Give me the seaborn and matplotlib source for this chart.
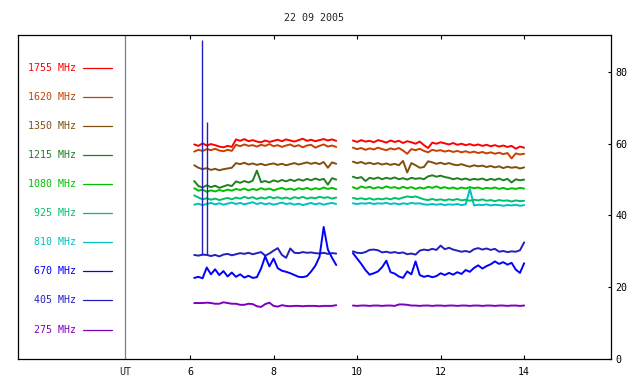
import numpy as np
import pandas as pd
import matplotlib
matplotlib.use("Agg")
import matplotlib.pyplot as plt
import seaborn as sns

# time grids (UT hours) for the two recording blocks
t_a = np.round(np.arange(6.1, 9.51, 0.1), 2)
t_b = np.round(np.arange(9.9, 14.01, 0.1), 2)

freqs = [1755, 1620, 1350, 1215, 1080, 925, 810, 670, 405, 275]
colors = ["#ff0000", "#c84000", "#805010", "#208020", "#00c000",
          "#00c070", "#00c0c0", "#0000ff", "#2020c0", "#8000c0"]

s1755_a = [59.8, 59.4, 60.1, 59.5, 59.9, 59.6, 59.2, 59.0, 59.4, 59.1,
           61.2, 60.8, 61.3, 60.7, 61.0, 60.6, 60.4, 60.9, 60.5, 60.8,
           61.1, 60.7, 61.2, 60.9, 60.6, 61.0, 61.4, 60.8, 61.1, 60.7,
           61.0, 61.3, 60.9, 61.2, 60.8]
s1755_b = [60.9, 60.5, 61.0, 60.6, 60.8, 60.4, 61.0, 60.7, 60.3, 60.9,
           60.5, 60.8, 60.2, 60.7, 60.4, 60.0, 60.6, 59.6, 58.8, 60.3,
           60.0, 60.4, 60.1, 59.8, 60.2, 59.7, 60.0, 59.6, 59.9, 59.5,
           59.8, 59.4, 59.7, 59.3, 59.6, 59.2, 59.5, 59.1, 59.4, 58.6,
           59.2, 58.9]

s1620_a = [57.8, 58.3, 58.0, 58.5, 58.2, 58.6, 58.1, 57.9, 58.3, 58.0,
           59.7, 59.3, 59.8, 59.4, 59.6, 59.2, 59.7, 59.4, 59.9, 59.3,
           59.6, 59.1, 59.5, 59.8, 59.2, 59.6, 59.0, 59.5, 59.7, 58.9,
           59.4, 59.8, 59.2, 59.5, 59.1]
s1620_b = [58.9, 58.5, 58.8, 58.3, 58.7, 58.4, 58.9, 58.5, 58.2, 58.7,
           58.4, 58.8, 58.1, 57.2, 58.5, 58.2, 58.6, 58.0, 57.6, 58.3,
           58.0, 58.2, 57.8, 58.1, 57.7, 58.0, 57.6, 57.9, 57.5, 57.8,
           57.4, 57.7, 57.3, 57.6, 57.2, 57.5, 57.1, 57.4, 55.9, 57.3,
           57.0, 57.2]

s1350_a = [54.0, 53.3, 52.9, 53.2, 52.7, 53.0, 52.6, 52.9, 53.1, 53.3,
           54.6, 54.3, 54.7, 54.2, 54.5, 54.1, 54.4, 54.0, 54.3, 54.5,
           54.1, 54.4, 54.0, 54.3, 54.6, 54.2, 54.5, 54.8, 54.4, 54.7,
           54.3, 54.9, 53.3, 54.8, 54.4]
s1350_b = [55.0, 54.6, 54.9, 54.4, 54.7, 54.3, 54.6, 54.2, 54.5, 54.1,
           54.4, 54.0, 55.2, 52.0, 54.6, 54.0, 53.3, 53.5, 55.1, 54.8,
           54.4, 54.7, 54.3, 54.6, 54.2, 54.0, 54.3, 53.9, 53.6, 54.0,
           53.7, 53.9, 53.5, 53.8, 53.4, 53.7, 53.2, 53.6, 53.3, 53.5,
           53.1, 53.4]

s1215_a = [49.6, 48.2, 47.8, 48.4, 47.9, 48.3, 47.7, 48.1, 48.5, 48.2,
           49.5, 49.1, 49.6, 49.2, 49.7, 52.5, 49.3, 49.6, 49.2, 49.8,
           49.4, 49.9, 49.5, 50.0, 49.6, 50.1, 49.7, 50.2, 49.8, 50.3,
           49.9, 50.2, 48.6, 50.4, 50.0]
s1215_b = [50.8, 50.4, 50.7, 49.6, 50.5, 50.2, 50.6, 50.1, 50.5, 50.2,
           50.6, 50.1, 50.4, 50.0, 50.5, 50.2, 50.4, 50.1, 50.9, 51.2,
           50.8, 51.1, 50.7, 50.5, 50.1, 50.4, 50.0, 50.3, 49.9, 50.2,
           50.0, 50.3, 49.8, 50.2, 49.9, 50.3, 49.8, 50.2, 49.2, 50.1,
           49.8, 50.0]

s1080_a = [47.6, 46.9, 47.2, 46.6, 47.0, 46.7, 47.1, 46.8, 47.2, 46.9,
           47.4, 47.1, 47.5, 47.0, 47.4, 47.1, 47.6, 47.2, 47.5, 47.0,
           47.4, 47.7, 47.2, 47.5, 47.1, 47.6, 47.3, 47.7, 47.2, 47.6,
           47.3, 47.8, 47.4, 47.7, 47.3]
s1080_b = [47.9, 47.4, 48.1, 47.7, 48.0, 47.5, 47.9, 47.6, 48.1, 47.7,
           47.9, 47.5, 48.0, 47.6, 47.9, 47.4, 47.8, 47.5, 48.0, 47.7,
           48.1, 47.6, 47.9, 47.5, 47.8, 47.4, 47.8, 47.5, 47.9, 47.6,
           47.8, 47.4, 47.7, 47.5, 47.8, 47.4, 47.7, 47.3, 47.6, 47.4,
           47.7, 47.5]

s925_a = [45.6, 45.0, 44.5, 44.8, 44.4, 44.7, 44.3, 44.6, 44.9, 44.5,
          45.0, 44.7, 45.2, 44.8, 45.1, 44.6, 45.0, 44.7, 45.2, 44.8,
          45.1, 44.7, 45.0, 44.6, 45.1, 44.8, 45.2, 44.7, 45.0, 44.8,
          45.2, 44.9, 45.1, 44.7, 45.0]
s925_b = [44.9, 44.6, 44.8, 44.5, 44.8, 44.4, 44.7, 44.5, 44.8, 44.5,
          44.9, 44.6, 45.0, 45.3, 45.1, 45.3, 44.9, 44.5, 44.3, 44.6,
          44.3, 44.5, 44.2, 44.5, 44.3, 44.6, 44.2, 44.4, 44.1, 44.4,
          44.2, 44.5, 44.1, 44.3, 44.0, 44.3, 44.1, 44.2, 43.9, 44.2,
          44.0, 44.1]

s810_a = [43.0, 43.3, 42.9, 43.2, 43.5, 43.1, 43.4, 43.0, 43.3, 43.6,
          43.2, 43.5, 43.1, 43.4, 43.7, 43.2, 43.5, 43.1, 43.4, 43.0,
          43.3, 43.6, 43.2, 43.4, 43.0, 43.3, 42.9, 43.2, 43.5, 43.1,
          43.4, 43.0, 43.3, 43.5, 43.2]
s810_b = [43.4, 43.2, 43.4, 43.3, 43.5, 43.2, 43.4, 43.3, 43.5, 43.2,
          43.4, 43.1, 43.4, 43.2, 43.5, 43.3, 43.4, 43.1, 43.0, 43.2,
          43.0, 43.2, 42.9, 43.1, 43.0, 43.2, 42.9, 43.1, 47.4, 42.8,
          43.0, 42.9, 43.1, 42.8, 43.0, 42.9, 42.7, 42.9, 42.8, 43.0,
          42.7, 42.9]

s670_a = [22.6, 22.9, 22.5, 25.5, 23.6, 25.0, 23.4, 24.5, 23.0, 24.1,
          22.9, 23.6, 22.7, 23.2, 22.6, 22.8, 25.2, 28.6, 25.8, 28.0,
          25.3, 24.6, 24.3, 23.9, 23.4, 22.9, 22.8, 23.1, 24.4, 26.0,
          28.5, 36.8, 30.5, 28.2, 26.2]
s670_b = [29.5, 28.0, 26.5, 24.8, 23.5, 23.9, 24.4, 25.6, 27.4, 24.2,
          23.8, 23.0, 22.6, 24.4, 23.6, 27.2, 23.4, 22.9, 23.2, 22.8,
          23.1, 23.9, 23.4, 24.0, 23.5, 24.2, 23.7, 24.8, 24.3, 25.4,
          26.1, 25.2, 25.9, 26.4, 27.2, 26.5, 27.0, 26.3, 26.8, 24.9,
          24.0, 26.7]

s405_a = [29.0, 28.8, 29.1, 29.0, 28.7, 29.0, 28.6, 29.1, 29.3, 28.9,
          29.2, 29.5, 29.3, 29.6, 29.2, 29.5, 29.8, 28.8, 29.4, 30.2,
          30.9, 29.0, 28.2, 30.8, 29.6, 29.5, 29.8, 29.6, 29.7, 29.5,
          29.4, 29.6, 29.3, 29.5, 29.4]
s405_b = [30.0, 29.6, 29.5, 29.8, 30.4, 30.5, 30.3, 29.7, 29.9, 29.6,
          29.8, 29.5, 29.7, 29.2, 29.4, 29.1, 30.2, 30.5, 30.3, 30.7,
          30.4, 31.6, 30.6, 31.0, 30.5, 30.2, 29.9, 30.1, 29.8, 30.6,
          30.9, 30.5, 30.8, 30.4, 30.7, 29.9, 30.1, 29.8, 30.0, 29.9,
          30.3, 32.5]
# interference spikes on the 405 MHz channel
spike_t = [6.29, 6.41]
spike_top = [89.0, 66.0]
spike_base = [29.0, 29.0]

s275_a = [15.6, 15.6, 15.6, 15.7, 15.6, 15.4, 15.4, 15.8, 15.6, 15.4,
          15.4, 15.1, 15.1, 15.4, 15.3, 14.7, 14.5, 15.3, 15.7, 14.8,
          14.6, 15.0, 14.8, 14.7, 14.8, 14.8, 14.7, 14.8, 14.8, 14.8,
          14.7, 14.8, 14.8, 14.8, 15.0]
s275_b = [14.9, 14.8, 14.9, 14.9, 14.8, 14.9, 14.9, 14.8, 14.9, 14.9,
          14.8, 15.2, 15.2, 15.1, 14.9, 14.9, 14.8, 14.9, 14.9, 14.8,
          14.9, 14.9, 14.8, 14.9, 14.9, 14.8, 14.9, 14.9, 14.8, 14.9,
          14.9, 14.8, 14.9, 14.9, 14.8, 14.9, 14.9, 14.8, 14.9, 14.9,
          14.8, 14.9]

series_a = [s1755_a, s1620_a, s1350_a, s1215_a, s1080_a,
            s925_a, s810_a, s670_a, s405_a, s275_a]
series_b = [s1755_b, s1620_b, s1350_b, s1215_b, s1080_b,
            s925_b, s810_b, s670_b, s405_b, s275_b]

rows = []
for f, sa, sb in zip(freqs, series_a, series_b):
    rows.append(pd.DataFrame({"time": t_a, "value": sa, "freq": f, "seg": 0}))
    rows.append(pd.DataFrame({"time": t_b, "value": sb, "freq": f, "seg": 1}))
df = pd.concat(rows, ignore_index=True)

sns.set_style("white")
plt.rcParams["font.family"] = ["DejaVu Sans Mono", "DejaVu Sans"]
plt.rcParams["font.size"] = 7.2

fig = plt.figure(figsize=(6.4, 3.84), dpi=100)
ax = fig.add_axes([18 / 640, 25 / 384, 593 / 640, 324 / 384])

palette = dict(zip(freqs, colors))
sns.lineplot(data=df, x="time", y="value", hue="freq", units="seg",
             estimator=None, palette=palette, hue_order=freqs[::-1],
             legend=False, linewidth=1.4, ax=ax)
ax.vlines(spike_t, spike_base, spike_top, color=palette[405], linewidth=1.0)

# UT marker line
ax.axvline(4.44, color="#808080", linewidth=0.9)

ax.set_xlim(1.88, 16.08)
ax.set_ylim(0, 90.3)
ax.set_xticks([6, 8, 10, 12, 14])
ax.set_yticks([0, 20, 40, 60, 80])
ax.yaxis.tick_right()
ax.tick_params(axis="x", direction="in", length=3, width=0.8, top=True,
               bottom=True, pad=6, labelsize=7.2, colors="black")
ax.tick_params(axis="y", direction="in", length=2.5, width=0.8, right=True,
               left=False, pad=3, labelsize=7.2, colors="black")
ax.set_xlabel("")
ax.set_ylabel("")
for sp in ax.spines.values():
    sp.set_visible(True)
    sp.set_color("black")
    sp.set_linewidth(0.9)

ax.text(4.44, -0.025, "UT", transform=ax.get_xaxis_transform(),
        ha="center", va="top", fontsize=7.2)
ax.set_title("22 09 2005", fontsize=7.2, pad=10)

# channel labels on the left
leg_y = [0.899 - i * 0.0898 for i in range(len(freqs))]
for f, c, y in zip(freqs, colors, leg_y):
    ax.text(0.098, y, f"{f} MHz", transform=ax.transAxes, color=c,
            ha="right", va="center", fontsize=7.2)
    ax.plot([0.109, 0.158], [y, y], transform=ax.transAxes, color=c,
            linewidth=0.9)

fig.savefig("out.png", dpi=100)
